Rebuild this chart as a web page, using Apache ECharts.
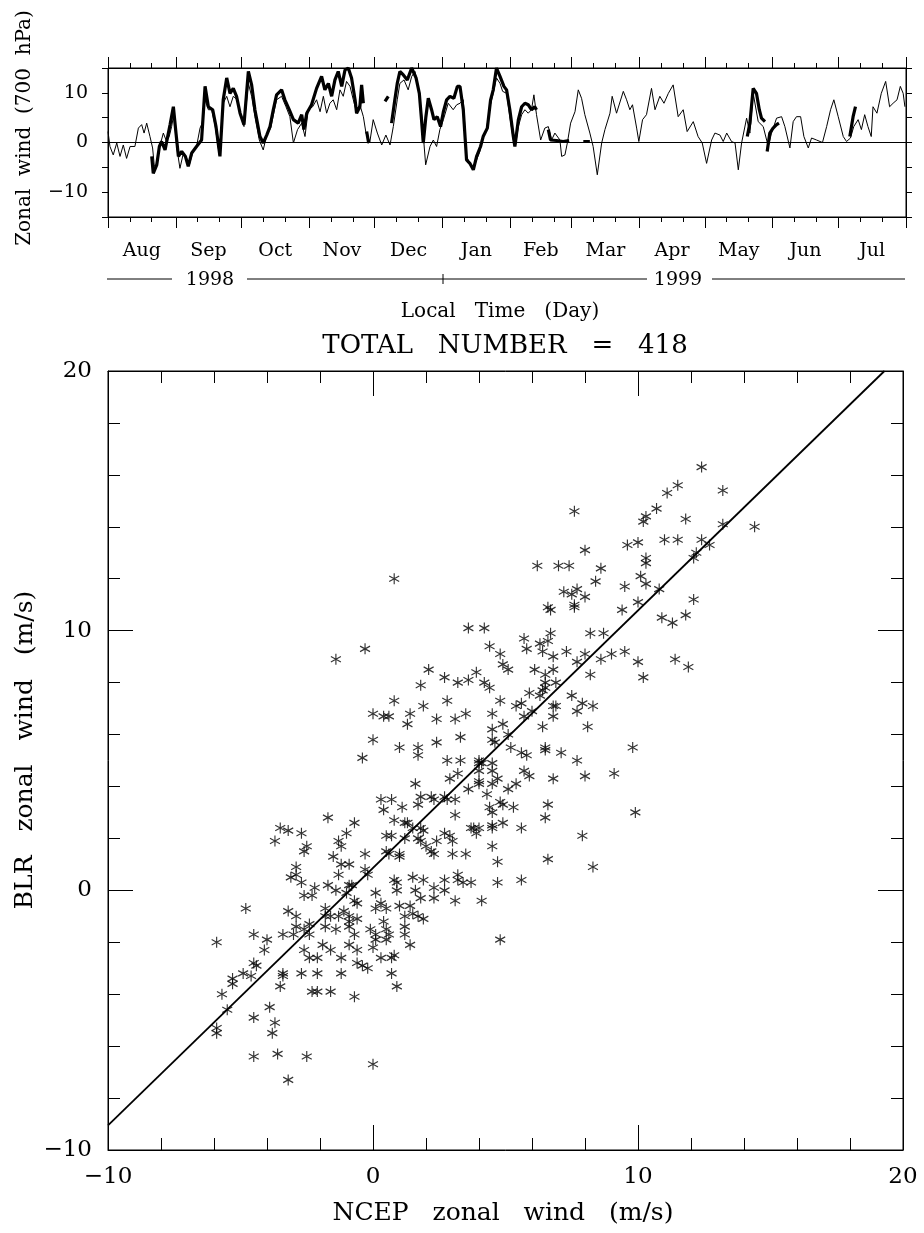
<!DOCTYPE html>
<html>
<head>
<meta charset="utf-8">
<script src="https://cdn.jsdelivr.net/npm/echarts@6/dist/echarts.min.js"></script>
<style>html,body{margin:0;padding:0;background:#fff}#chart{width:924px;height:1233px}</style>
</head>
<body>
<div id="chart"></div>
<script>
// ---------- Top panel: daily zonal wind (700 hPa), Aug 1998 - Jul 1999 ----------
const monthNames = ['Aug','Sep','Oct','Nov','Dec','Jan','Feb','Mar','Apr','May','Jun','Jul'];
const monthStarts = [0,31,61,92,122,153,184,212,243,273,304,334,365]; // day index from 1 Aug 1998
const yearLabels = ['1998','1999'];
const topYTickLabels = [-10, 0, 10];

// NCEP (thin line)
const ncepDays = [0,0.9,2.4,4.0,5.5,7.0,8.5,10.1,12.3,13.9,15.4,16.5,17.7,19.2,20.4,21.2,22.3,23.5,25.3,26.8,28.0,29.1,30.2,31.4,32.9,34.5,36.0,37.2,38.7,40.5,42.1,43.1,44.4,45.9,47.4,48.9,50.9,52.7,54.3,55.8,57.3,59.1,60.7,62.2,64.2,65.7,67.2,69.2,71.0,72.6,74.4,77.1,79.4,81.4,83.2,84.8,86.7,88.6,90.1,91.6,93.6,95.4,97.0,98.5,100.0,101.5,103.0,104.6,106.1,107.6,109.1,110.7,112.2,113.4,115.2,116.8,118.0,119.8,121.3,123.2,125.2,127.1,129.0,130.5,132.3,133.5,135.4,137.3,138.9,140.4,141.9,143.4,145.3,147.3,148.8,150.3,151.8,153.4,155.6,157.9,159.5,161.0,162.5,164.0,165.5,167.1,168.6,170.1,171.6,173.2,174.7,176.2,177.7,179.3,180.5,182.3,183.8,185.4,186.4,187.7,189.2,190.7,192.2,193.7,194.8,196.0,197.9,199.8,201.4,202.9,204.4,206.7,207.5,209.0,210.1,211.6,213.6,215.1,216.6,218.1,220.4,221.9,223.8,225.8,227.3,229.6,230.6,232.6,235.7,237.2,238.7,239.9,241.8,242.8,244.5,246.3,248.6,250.2,252.4,254.3,256.3,258.5,260.8,263.1,264.9,267.7,269.9,271.8,273.8,276.1,277.6,279.9,281.4,283.0,285.2,286.8,288.3,289.8,292.1,293.6,295.1,297.4,299.7,302.0,303.5,305.8,308.1,309.6,311.9,313.4,314.9,316.8,318.3,320.3,321.8,324.1,326.8,328.7,330.5,332.0,334.0,336.3,337.8,339.6,341.1,343.1,344.6,346.1,347.6,349.1,349.9,351.7,353.7,355.7,357.5,359.1,360.9,362.4,363.7,364.5];
const ncepWind = [2.2,-0.8,-2.5,-0.1,-2.8,-0.5,-3.2,-0.8,-0.8,2.9,3.6,1.9,3.9,1.2,-1.1,-4.8,-4.2,-1.1,1.9,0.2,1.2,3.2,5.9,-0.8,-5.2,-2.1,-3.2,-4.5,-2.1,-0.8,2.9,3.9,8.6,6.6,6.6,3.6,-2.5,7.9,9.3,7.2,9.3,8.6,5.6,3.2,11.9,9.3,5.2,0.5,-1.5,1.5,2.9,8.6,9.3,7.2,5.2,-0.1,2.6,3.9,1.2,6.6,7.2,8.6,6.2,9.3,5.9,7.9,8.6,6.6,10.6,9.3,12.3,11.3,8.6,6.6,7.6,5.2,1.9,0.2,4.6,1.9,-0.5,1.5,-0.5,3.2,8.6,11.9,12.6,10.6,13.3,14.3,11.3,5.9,-4.5,-0.8,0.5,-0.8,2.6,4.6,7.9,6.6,7.6,7.9,8.6,-2.8,-4.2,-5.2,-3.5,-1.8,1.2,2.9,7.2,9.9,13.0,11.9,10.3,9.9,5.2,0.5,-0.5,3.2,5.6,6.6,5.9,6.6,9.6,5.6,0.5,2.9,3.2,0.5,1.9,0.5,-2.8,-2.5,-0.1,3.9,6.2,10.6,8.9,5.6,1.9,-0.8,-6.5,-0.1,2.6,5.9,9.3,5.9,10.3,8.6,6.6,7.6,2.9,0.2,4.6,5.6,10.9,6.6,9.3,7.9,9.9,11.6,5.2,6.6,2.2,4.2,1.2,-0.1,-4.2,0.5,1.9,1.5,0.2,1.9,0.2,-0.1,-5.5,-0.1,4.9,1.9,9.9,4.2,3.2,-0.8,1.9,4.9,5.2,3.2,-1.1,4.2,5.2,5.2,1.2,-1.1,0.9,0.5,0,3.2,6.6,8.6,5.2,1.2,0.2,0.9,3.2,4.6,2.6,5.6,3.2,1.2,7.2,5.9,9.9,12.3,7.2,7.9,8.6,11.3,9.9,7.2];

// BLR (thick line), observed segments with gaps
const blrSegmentDays = [
  [20.0,20.7,22.3,23.5,24.5,26.1,27.3,28.4,29.9,31.1,32.2,33.7,35.4,36.7,38.3,40.5,42.8,44.4,45.9,47.9,49.4,51.2,52.7,54.3,55.8,57.3,58.8,60.4,62.2,64.2,65.7,67.2,69.5,71.0,72.6,74.1,75.6,77.1,79.4,80.9,82.9,84.8,87.0,88.6,89.6,90.9,93.1,95.4,97.7,99.2,100.8,102.3,103.8,105.3,106.9,108.4,109.9,111.4,113.0,113.7,115.2,116.0,116.8],
  [118.3,119.1,119.5],
  [126.7,128.2],
  [129.7,131.2,132.3,133.5,135.1,136.9,138.9,140.9,142.4,143.4,144.2,145.4,146.5,148.0,149.1,150.6,152.1,153.4,154.9,156.4,158.2,159.8,161.0,162.5,164.0,165.5,167.1,168.6,170.4,171.6,173.5,175.0,176.2,177.7,179.3,181.1,182.3,183.8,185.4,186.1,187.7,189.2,190.7,192.2,193.7,195.2,196.0],
  [201.4,202.4,205.2,208.2,210.9],
  [217.4,220.4],
  [292.4,293.6,295.1,296.6,297.9,298.9,300.5],
  [301.5,302.7,304.2,305.8,306.9],
  [339.3,340.8,341.9]
];
const blrSegmentWind = [
  [-2.8,-6.2,-4.5,-0.8,0.2,-1.5,1.2,3.6,7.2,1.9,-2.8,-1.8,-2.8,-4.8,-2.1,-0.8,0.5,11.3,7.2,6.6,3.2,-2.8,8.6,13.0,9.9,10.9,9.3,5.9,3.6,14.3,11.6,6.6,1.2,-0.1,1.5,3.2,6.6,9.6,10.6,8.6,6.6,4.6,3.9,5.6,2.6,5.9,7.6,10.9,13.3,10.6,11.9,9.3,12.6,14.3,11.3,14.6,15.0,13.0,8.6,5.9,7.2,11.6,7.9],
  [2.2,0.2,-0.1],
  [8.3,9.3],
  [3.9,8.6,11.9,14.3,13.6,12.6,15.0,13.0,9.9,4.6,-0.1,5.2,8.9,6.6,4.6,5.2,3.2,6.2,8.6,9.3,8.9,11.3,11.3,6.6,-3.5,-4.2,-5.5,-2.8,-0.8,1.2,2.9,8.6,10.6,15.0,13.3,11.3,10.6,6.6,1.2,-0.8,4.6,7.2,7.9,7.6,6.6,7.2,6.6],
  [2.6,0.5,0.4,0.2,0.4],
  [0.2,0.2],
  [1.2,3.9,10.9,9.9,6.6,4.9,4.2],
  [-1.8,1.9,2.9,3.6,3.9],
  [1.2,5.2,7.2]
];

// ---------- Bottom panel: scatter NCEP vs BLR ----------
const totalNumber = 418;
const fitLineX = [-10, 19.3];
const fitLineY = [-9.05, 20];
const scatterPoints = [
[0.8,12.0],[3.6,10.1],[4.2,10.1],[-0.3,9.3],[-1.4,8.9],[4.4,9.4],[4.8,9.1],[4.9,8.7],[5.1,8.5],[2.1,8.5],
[2.7,8.2],[3.2,8.0],[3.6,8.1],[3.9,8.4],[4.2,8.0],[4.4,7.8],[1.8,7.9],[0.8,7.3],[2.8,7.3],[1.9,7.1],
[4.8,7.3],[0.0,6.8],[0.4,6.7],[0.6,6.7],[1.4,6.8],[1.3,6.4],[2.4,6.6],[3.1,6.6],[3.5,6.8],[4.5,6.8],
[4.9,6.4],[0.0,5.8],[1.0,5.5],[1.7,5.5],[2.4,5.7],[3.3,5.9],[4.5,6.2],[4.5,5.8],[4.6,5.7],
[12.4,16.3],[11.5,15.6],[11.1,15.3],[13.2,15.4],[10.7,14.7],[10.3,14.4],[10.2,14.2],[7.6,14.6],[11.8,14.3],[13.2,14.1],
[14.4,14.0],[9.6,13.3],[10.0,13.4],[11.0,13.5],[11.5,13.5],[12.4,13.5],[12.7,13.3],[12.2,13.0],[12.1,12.8],[8.0,13.1],
[10.3,12.8],[10.3,12.6],[6.2,12.5],[7.0,12.5],[7.4,12.5],[8.6,12.4],[8.4,11.9],[10.1,12.1],[10.3,11.8],[10.8,11.6],
[9.5,11.7],[7.2,11.5],[7.7,11.6],[7.5,11.4],[8.0,11.3],[7.6,11.0],[7.6,10.9],[12.1,11.2],[10.0,11.1],[9.4,10.8],
[6.6,10.9],[6.7,10.8],[10.9,10.5],[11.3,10.3],[11.8,10.6],[5.7,9.7],[5.8,9.3],[6.3,9.5],[6.4,9.2],[6.6,9.6],
[6.7,9.9],[6.8,9.0],[7.3,9.2],[7.7,8.8],[8.0,9.1],[8.2,9.9],[8.7,9.9],[8.6,8.9],[9.0,9.1],[9.5,9.2],
[10.0,8.8],[11.4,8.9],[11.9,8.6],[8.2,8.3],[10.2,8.2],[6.1,8.5],[6.5,8.3],[6.8,8.5],[6.5,8.0],[6.5,7.8],
[6.9,8.0],[5.9,7.6],[6.3,7.5],[6.4,7.7],[6.8,7.1],[6.9,7.1],[7.5,7.5],[7.7,6.9],[7.9,7.2],[8.3,7.1],
[8.1,6.3],[6.4,6.3],[6.8,6.7],[5.4,7.1],[5.6,7.2],[5.7,6.7],[6.0,6.9],[5.1,6.0],[6.5,5.5],[9.8,5.5],[5.2,5.5],
[-0.4,5.1],[1.7,5.2],[1.6,4.1],[2.8,5.0],[2.9,4.3],[3.2,4.5],[3.3,5.0],[4.0,5.0],[4.0,4.9],[4.0,4.1],
[4.5,4.6],[4.5,4.1],[0.3,3.5],[0.4,3.1],[0.7,3.5],[1.1,3.2],[1.7,3.3],[1.8,3.6],[2.2,3.6],[2.3,3.5],
[2.7,3.6],[2.8,3.5],[3.1,2.9],[3.6,3.9],[3.7,2.4],[3.8,2.4],[4.0,2.4],[4.5,2.4],[4.5,1.7],[4.7,1.1],
[4.7,0.3],[0.8,2.7],[1.2,2.6],[1.3,2.6],[1.5,2.4],[1.8,2.4],[1.9,2.3],[0.5,2.1],[0.7,2.1],[1.2,2.0],
[1.7,2.0],[1.8,1.9],[2.0,1.7],[2.2,1.5],[2.3,1.4],[2.4,1.9],[2.7,2.2],[2.9,2.1],[0.5,1.5],[0.6,1.4],
[1.0,1.4],[1.0,1.3],[3.0,1.4],[3.5,1.4],[3.2,0.6],[3.2,0.4],[3.4,0.3],[3.7,0.3],[2.7,0.4],[2.7,0.0],
[3.1,-0.4],[4.1,-0.4],[2.3,0.1],[2.3,-0.3],[1.9,0.4],[1.8,-0.3],[1.6,0.0],[1.5,0.5],[0.9,0.3],[0.9,0.0],
[0.8,0.4],[0.3,-0.5],[0.1,-0.1],[0.4,-1.2],[0.1,-0.7],[0.5,-0.7],[1.0,-0.6],[1.4,-0.6],[1.5,-0.9],[1.7,-1.0],
[1.9,-1.1],[1.2,-1.0],[1.2,-1.4],[-0.1,-1.5],[0.1,-1.7],[0.1,-1.9],[0.5,-1.5],[0.6,-1.7],[0.5,-1.9],[1.2,-1.7],
[1.4,-2.1],[0.0,-2.2],[0.3,-2.6],[0.7,-2.6],[0.8,-2.5],[0.7,-3.2],[0.9,-3.7],[0.0,-6.7],[-0.3,1.4],[-0.2,0.6],
[-0.3,0.8],[-0.7,2.6],[-1.0,2.2],[-1.3,1.9],[-1.2,1.7],[-1.5,1.3],[-1.2,1.0],[-0.9,1.0],[-1.3,0.6],[-0.9,0.2],
[-0.8,0.2],[-1.4,0.0],[-1.0,-0.1],[-0.7,-0.4],[-0.6,-0.5],[-1.7,0.2],[-1.8,-0.7],[-1.8,-1.0],[-1.6,-1.0],[-1.3,-1.0],
[-1.1,-0.8],[-0.9,-1.0],[-0.6,-1.1],[-0.9,-1.2],[-1.8,-1.4],[-1.4,-1.5],[-0.9,-1.4],[-0.7,-1.7],[-0.9,-2.1],[-0.6,-2.3],
[-1.9,-2.1],[-1.6,-2.3],[-1.2,-2.6],[-1.2,-3.2],[-0.6,-2.8],[-0.4,-2.9],[-0.2,-3.0],[-0.7,-4.1],[-1.6,-3.9],[-2.1,-3.9],
[-2.3,-3.9],[-2.5,-6.4],[-2.1,-3.2],[-2.4,-2.6],[-2.1,-2.6],[-2.6,-2.3],[-2.7,-3.2],[-2.4,-1.7],[-2.6,-1.5],[-2.9,-1.4],
[-3.2,-0.8],[-2.9,-1.0],[-2.4,-1.3],[-2.2,0.1],[-2.3,-0.2],[-2.6,-0.2],[-2.5,1.7],[-2.6,1.5],[-2.7,2.2],[-3.2,2.3],
[-3.5,2.4],[-3.7,1.9],[-1.7,2.8],[-3.1,0.5],[-2.9,0.9],[-2.9,0.6],[-2.7,0.3],[-3.0,-1.7],[-3.4,-1.7],[-3.6,-6.3],
[-3.2,-7.3],[-3.7,-5.1],[-3.8,-5.5],[-3.9,-4.5],[-4.5,-4.9],[-4.5,-6.4],[-3.5,-3.7],[-3.4,-3.2],[-3.4,-3.3],[-4.0,-1.9],
[-4.1,-2.3],[-4.5,-1.7],[-4.8,-0.7],[-4.5,-2.8],[-4.4,-2.9],[-4.9,-3.2],[-4.6,-3.3],[-5.3,-3.4],[-5.3,-3.6],[-5.7,-4.0],
[-5.5,-4.6],[-5.9,-5.3],[-5.9,-5.5],[-5.9,-2.0],
[5.6,5.3],[5.8,5.2],[6.5,5.4],[7.1,5.3],[7.7,5.0],[8.0,4.4],[9.1,4.5],[6.8,4.3],[5.7,4.6],[5.9,4.4],
[5.1,3.9],[5.4,4.1],[4.9,3.3],[5.3,3.2],[4.8,3.4],[4.5,3.0],[4.4,3.2],[4.3,3.7],[4.7,4.3],[4.5,4.9],
[4.1,4.9],[4.0,4.6],[4.0,4.2],[3.1,3.5],[3.9,2.2],[4.5,2.5],[4.9,2.6],[5.6,2.4],[3.0,1.9],[6.6,3.3],
[6.5,2.8],[7.9,2.1],[6.6,1.2],[8.3,0.9],[5.6,0.4],[9.9,3.0],[4.8,-1.9]
];

// ---------- derived axis helpers ----------
const minorTickDays = [];
monthStarts.slice(0, -1).forEach(s => { minorTickDays.push(s + 10, s + 20); });
const monthMids = monthStarts.slice(0, -1).map((s, i) => (s + monthStarts[i + 1]) / 2);
const fmtNum = v => (v < 0 ? '\u2212' + Math.abs(v) : String(v));

const blrData = [];
blrSegmentDays.forEach((days, k) => {
  if (k > 0) blrData.push([days[0] - 0.3, null]);
  days.forEach((d, i) => blrData.push([d, blrSegmentWind[k][i]]));
});
const ncepData = ncepDays.map((d, i) => [d, ncepWind[i]]);
const fitData = fitLineX.map((x, i) => [x, fitLineY[i]]);

const FONT = 'DejaVu Serif';
const black = '#000';
const lineS = { color: black, width: 1 };

const topXBase = {
  gridIndex: 0, type: 'value', min: 0, max: 365,
  axisLine: { show: true, onZero: false, lineStyle: lineS },
  splitLine: { show: false }, axisLabel: { show: false }
};
const scX = {
  gridIndex: 1, type: 'value', min: -10, max: 20, interval: 10,
  axisLine: { show: true, onZero: false, lineStyle: lineS },
  axisTick: { show: true, inside: true, length: 25, lineStyle: lineS },
  minorTick: { show: true, splitNumber: 5, length: 12, lineStyle: lineS },
  splitLine: { show: false }, minorSplitLine: { show: false }
};

const asterisk = 'path://M5,0L5,10M0.67,2.5L9.33,7.5M0.67,7.5L9.33,2.5';

const chart = echarts.init(document.getElementById('chart'), null, { renderer: 'canvas' });
chart.setOption({
  animation: false,
  backgroundColor: '#fff',
  textStyle: { fontFamily: FONT, color: black },
  grid: [
    { left: 108, top: 68, width: 798, height: 149, show: true, borderColor: black, borderWidth: 1 },
    { left: 108, top: 371, width: 795, height: 779, show: true, borderColor: black, borderWidth: 1 }
  ],
  xAxis: [
    Object.assign({}, topXBase, {
      position: 'bottom',
      axisTick: { show: true, customValues: monthStarts, length: 11, lineStyle: lineS },
      axisLabel: { show: true, customValues: monthMids, formatter: v => monthNames[monthMids.indexOf(v)],
        margin: 25, fontSize: 19, fontFamily: FONT, color: black }
    }),
    Object.assign({}, topXBase, { position: 'bottom',
      axisTick: { show: true, customValues: minorTickDays, length: 5, lineStyle: lineS } }),
    Object.assign({}, topXBase, { position: 'top',
      axisTick: { show: true, customValues: monthStarts, length: 11, lineStyle: lineS } }),
    Object.assign({}, topXBase, { position: 'top',
      axisTick: { show: true, customValues: minorTickDays, length: 5, lineStyle: lineS } }),
    Object.assign({}, scX, { position: 'bottom',
      axisLabel: { show: true, fontSize: 23, fontFamily: FONT, color: black, margin: 16, formatter: fmtNum,
        showMinLabel: true, showMaxLabel: true } }),
    Object.assign({}, scX, { position: 'top', axisLabel: { show: false } })
  ],
  yAxis: [
    { gridIndex: 0, type: 'value', min: -15, max: 15, interval: 5, position: 'left',
      axisLine: { show: true, onZero: false, lineStyle: lineS },
      axisTick: { show: true, length: 6, lineStyle: lineS },
      axisLabel: { fontSize: 19, fontFamily: FONT, color: black, margin: 20,
        formatter: v => (topYTickLabels.indexOf(v) >= 0 ? fmtNum(v) : '') },
      splitLine: { show: false } },
    { gridIndex: 0, type: 'value', min: -15, max: 15, interval: 5, position: 'right',
      axisLine: { show: true, onZero: false, lineStyle: lineS },
      axisTick: { show: true, length: 6, lineStyle: lineS },
      axisLabel: { show: false }, splitLine: { show: false } },
    Object.assign({}, scX, { position: 'left',
      axisLabel: { show: true, fontSize: 23, fontFamily: FONT, color: black, margin: 16, formatter: fmtNum,
        showMinLabel: true, showMaxLabel: true } }),
    Object.assign({}, scX, { position: 'right', axisLabel: { show: false } })
  ],
  graphic: [
    { type: 'text', x: 25, y: 128, rotation: Math.PI / 2,
      style: { text: 'Zonal  wind  (700  hPa)', font: '20px "DejaVu Serif"', fill: black, align: 'center', verticalAlign: 'middle' } },
    { type: 'line', shape: { x1: 107, y1: 279, x2: 172, y2: 279 }, style: { stroke: black, lineWidth: 1 } },
    { type: 'text', x: 210, y: 280, style: { text: yearLabels[0], font: '19px "DejaVu Serif"', fill: black, align: 'center', verticalAlign: 'middle' } },
    { type: 'line', shape: { x1: 247, y1: 279, x2: 647, y2: 279 }, style: { stroke: black, lineWidth: 1 } },
    { type: 'line', shape: { x1: 443, y1: 274, x2: 443, y2: 284 }, style: { stroke: black, lineWidth: 1 } },
    { type: 'text', x: 678, y: 280, style: { text: yearLabels[1], font: '19px "DejaVu Serif"', fill: black, align: 'center', verticalAlign: 'middle' } },
    { type: 'line', shape: { x1: 712, y1: 279, x2: 905, y2: 279 }, style: { stroke: black, lineWidth: 1 } },
    { type: 'text', x: 500, y: 312, style: { text: 'Local   Time   (Day)', font: '20px "DejaVu Serif"', fill: black, align: 'center', verticalAlign: 'middle' } },
    { type: 'text', x: 505, y: 346, style: { text: 'TOTAL   NUMBER   =   ' + totalNumber, font: '26px "DejaVu Serif"', fill: black, align: 'center', verticalAlign: 'middle' } },
    { type: 'text', x: 503, y: 1213, style: { text: 'NCEP   zonal   wind   (m/s)', font: '25px "DejaVu Serif"', fill: black, align: 'center', verticalAlign: 'middle' } },
    { type: 'text', x: 25, y: 750, rotation: Math.PI / 2,
      style: { text: 'BLR   zonal   wind   (m/s)', font: '25px "DejaVu Serif"', fill: black, align: 'center', verticalAlign: 'middle' } }
  ],
  series: [
    { type: 'line', name: 'NCEP', xAxisIndex: 0, yAxisIndex: 0, data: ncepData, symbol: 'none',
      lineStyle: { color: black, width: 1 }, z: 3,
      markLine: { silent: true, symbol: 'none', label: { show: false },
        lineStyle: { color: black, width: 1, type: 'solid' }, data: [{ yAxis: 0 }] } },
    { type: 'line', name: 'BLR', xAxisIndex: 0, yAxisIndex: 0, data: blrData, symbol: 'none',
      connectNulls: false, lineStyle: { color: black, width: 3.2 }, z: 4 },
    { type: 'scatter', name: 'points', xAxisIndex: 4, yAxisIndex: 2, data: scatterPoints,
      symbol: asterisk, symbolSize: [10, 11],
      itemStyle: { color: 'rgba(0,0,0,0)', borderColor: black, borderWidth: 1.2 }, z: 3 },
    { type: 'line', name: 'fit', xAxisIndex: 4, yAxisIndex: 2, data: fitData, symbol: 'none',
      lineStyle: { color: black, width: 1.8 }, z: 4 }
  ]
});
</script>
</body>
</html>
